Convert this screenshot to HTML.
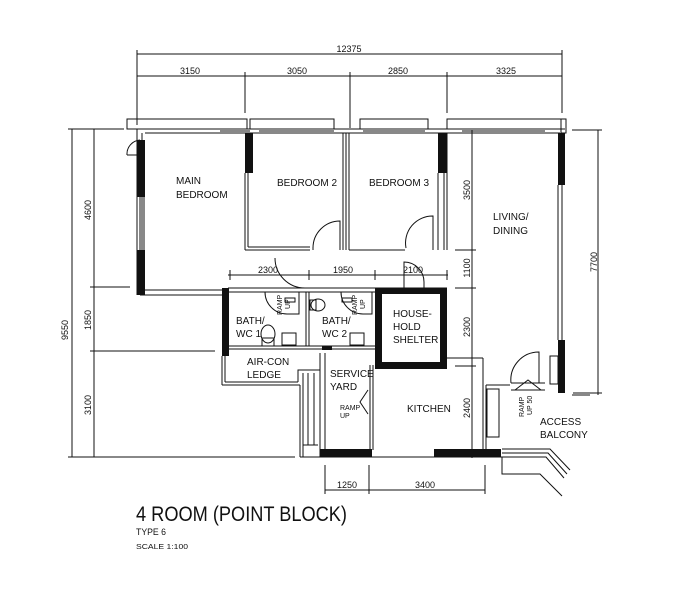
<!DOCTYPE html>
<html><head><meta charset="utf-8"><style>
html,body{margin:0;padding:0;background:#fff}
svg{display:block}
text{font-family:"Liberation Sans",sans-serif;fill:#111}
</style></head><body>
<svg width="686" height="600" viewBox="0 0 686 600" xmlns="http://www.w3.org/2000/svg">
<g stroke="#111" stroke-width="1" fill="none">
<line x1="137" y1="54" x2="562" y2="54"/>
<line x1="137" y1="76" x2="562" y2="76"/>
<line x1="137" y1="50" x2="137" y2="125"/>
<line x1="245" y1="72" x2="245" y2="113"/>
<line x1="350" y1="72" x2="350" y2="128"/>
<line x1="447" y1="72" x2="447" y2="113"/>
<line x1="562" y1="50" x2="562" y2="113"/>
<line x1="72" y1="129" x2="72" y2="457"/>
<line x1="94" y1="129" x2="94" y2="457"/>
<line x1="68" y1="129" x2="124" y2="129"/>
<line x1="90" y1="287" x2="130" y2="287"/>
<line x1="90" y1="351" x2="215" y2="351"/>
<line x1="68" y1="457" x2="295" y2="457"/>
<line x1="598" y1="130" x2="598" y2="395"/>
<line x1="572" y1="130" x2="602" y2="130"/>
<line x1="573" y1="393" x2="602" y2="393"/>
<line x1="472" y1="130" x2="472" y2="458"/>
<line x1="455" y1="250" x2="476" y2="250"/>
<line x1="455" y1="288" x2="476" y2="288"/>
<line x1="455" y1="366" x2="476" y2="366"/>
<line x1="228" y1="275" x2="448" y2="275"/>
<line x1="230" y1="270" x2="230" y2="280"/>
<line x1="309" y1="270" x2="309" y2="280"/>
<line x1="375" y1="270" x2="375" y2="280"/>
<line x1="447" y1="270" x2="447" y2="280"/>
<line x1="325" y1="490" x2="485" y2="490"/>
<line x1="325" y1="465" x2="325" y2="494"/>
<line x1="369" y1="465" x2="369" y2="494"/>
<line x1="485" y1="465" x2="485" y2="494"/>
<line x1="140" y1="129" x2="565" y2="129"/>
<line x1="145" y1="133" x2="560" y2="133"/>
<rect x="127" y="119" width="120" height="10"/>
<rect x="250" y="119" width="84" height="10"/>
<rect x="360" y="119" width="68" height="10"/>
<rect x="447" y="119" width="114" height="10"/>
<rect x="561" y="119" width="5" height="14"/>
<line x1="220" y1="131" x2="250" y2="131"/>
<line x1="259" y1="131" x2="334" y2="131"/>
<line x1="363" y1="131" x2="425" y2="131"/>
<line x1="462" y1="131" x2="545" y2="131"/>
<line x1="137" y1="129" x2="137" y2="295"/>
<line x1="142" y1="133" x2="142" y2="295"/>
<rect x="140" y="196" width="4" height="55"/>
<path d="M127 155 A14 14 0 0 1 140 140"/>
<line x1="127" y1="155" x2="140" y2="155"/>
<line x1="140" y1="295" x2="222" y2="295"/>
<line x1="145" y1="290" x2="222" y2="290"/>
<line x1="245" y1="173" x2="245" y2="250"/>
<line x1="248" y1="173" x2="248" y2="247"/>
<line x1="245" y1="250" x2="310" y2="250"/>
<line x1="248" y1="247" x2="310" y2="247"/>
<line x1="313" y1="250" x2="313" y2="247"/>
<path d="M313 248 A27 27 0 0 1 340 221 L340 250"/>
<path d="M275 258 A30 30 0 0 0 305 288"/>
<line x1="343" y1="133" x2="343" y2="250"/>
<line x1="346" y1="133" x2="346" y2="250"/>
<line x1="349" y1="133" x2="349" y2="250"/>
<line x1="349" y1="250" x2="405" y2="250"/>
<path d="M406 248 A27 27 0 0 1 433 216 L433 250"/>
<line x1="438" y1="173" x2="438" y2="250"/>
<line x1="447" y1="133" x2="447" y2="250"/>
<line x1="444" y1="173" x2="444" y2="250"/>
<line x1="558" y1="185" x2="558" y2="340"/>
<line x1="562" y1="185" x2="562" y2="340"/>
<line x1="228" y1="288" x2="447" y2="288"/>
<line x1="228" y1="292" x2="375" y2="292"/>
<line x1="228" y1="346" x2="375" y2="346"/>
<line x1="228" y1="349" x2="375" y2="349"/>
<line x1="306" y1="292" x2="306" y2="346"/>
<line x1="309" y1="292" x2="309" y2="346"/>
<path d="M265 292 A22 22 0 0 0 287 314 L299 314 L299 292"/>
<path d="M341 292 A22 22 0 0 0 363 314 L372 314 L372 292"/>
<rect x="285" y="298" width="10" height="4"/>
<rect x="342" y="298" width="10" height="4"/>
<ellipse cx="268" cy="334" rx="7" ry="9"/>
<rect x="262" y="338" width="12" height="8"/>
<rect x="282" y="333" width="14" height="12"/>
<ellipse cx="318" cy="305" rx="7" ry="6"/>
<rect x="310" y="300" width="6" height="10"/>
<rect x="350" y="333" width="14" height="12"/>
<path d="M404 288 L404 262 A20 20 0 0 1 424 282 L424 288"/>
<line x1="222" y1="356" x2="222" y2="385"/>
<line x1="225" y1="356" x2="225" y2="382"/>
<line x1="222" y1="385" x2="300" y2="385"/>
<line x1="225" y1="382" x2="298" y2="382"/>
<polyline points="298,382 298,370 320,370"/>
<line x1="300" y1="385" x2="300" y2="457"/>
<line x1="303" y1="373" x2="303" y2="457"/>
<line x1="308" y1="373" x2="308" y2="445"/>
<line x1="314" y1="373" x2="314" y2="445"/>
<line x1="303" y1="445" x2="318" y2="445"/>
<line x1="300" y1="457" x2="325" y2="457"/>
<line x1="320" y1="353" x2="320" y2="457"/>
<line x1="325" y1="353" x2="325" y2="450"/>
<line x1="370" y1="365" x2="370" y2="450"/>
<line x1="373" y1="365" x2="373" y2="450"/>
<path d="M368 390 L360 402 L368 414"/>
<line x1="447" y1="358" x2="483" y2="358"/>
<line x1="483" y1="358" x2="483" y2="455"/>
<line x1="486" y1="385" x2="486" y2="455"/>
<line x1="486" y1="385" x2="510" y2="385"/>
<rect x="487" y="389" width="12" height="48"/>
<line x1="325" y1="457" x2="505" y2="457"/>
<path d="M511 383 A28 28 0 0 1 539 352 L539 383"/>
<line x1="511" y1="383" x2="545" y2="383"/>
<line x1="511" y1="390" x2="545" y2="390"/>
<path d="M515 390 L528 380 L541 390"/>
<rect x="550" y="356" width="8" height="28"/>
<line x1="572" y1="395" x2="590" y2="395"/>
<polyline points="502,449 550,449 570,470"/>
<polyline points="502,453 548,453 567,474"/>
<polyline points="502,457 546,457 564,478"/>
<polyline points="502,457 502,474 540,474 562,496"/>
</g>
<g fill="#111">
<rect x="137" y="140" width="8" height="57"/>
<rect x="137" y="250" width="8" height="45"/>
<rect x="245" y="133" width="8" height="40"/>
<rect x="438" y="133" width="9" height="40"/>
<rect x="558" y="133" width="7" height="52"/>
<rect x="558" y="340" width="7" height="53"/>
<rect x="222" y="288" width="7" height="68"/>
<rect x="375" y="288" width="72" height="6"/>
<rect x="375" y="288" width="7" height="80"/>
<rect x="440" y="288" width="7" height="80"/>
<rect x="375" y="362" width="72" height="7"/>
<rect x="320" y="449" width="52" height="8"/>
<rect x="434" y="449" width="67" height="8"/>
<rect x="322" y="346" width="10" height="4"/>
</g>
<g font-size="9">
<text x="190" y="74" text-anchor="middle">3150</text>
<text x="297" y="74" text-anchor="middle">3050</text>
<text x="398" y="74" text-anchor="middle">2850</text>
<text x="506" y="74" text-anchor="middle">3325</text>
<text x="349" y="52" text-anchor="middle">12375</text>
<text x="268" y="273" text-anchor="middle">2300</text>
<text x="343" y="273" text-anchor="middle">1950</text>
<text x="413" y="273" text-anchor="middle">2100</text>
<text x="347" y="488" text-anchor="middle">1250</text>
<text x="425" y="488" text-anchor="middle">3400</text>
<text transform="translate(68,330) rotate(-90)" text-anchor="middle">9550</text>
<text transform="translate(91,210) rotate(-90)" text-anchor="middle">4600</text>
<text transform="translate(91,320) rotate(-90)" text-anchor="middle">1850</text>
<text transform="translate(91,405) rotate(-90)" text-anchor="middle">3100</text>
<text transform="translate(470,190) rotate(-90)" text-anchor="middle">3500</text>
<text transform="translate(470,268) rotate(-90)" text-anchor="middle">1100</text>
<text transform="translate(470,327) rotate(-90)" text-anchor="middle">2300</text>
<text transform="translate(470,408) rotate(-90)" text-anchor="middle">2400</text>
<text transform="translate(597,262) rotate(-90)" text-anchor="middle">7700</text>
</g>
<g font-size="10">
<text x="176" y="184">MAIN</text><text x="176" y="198">BEDROOM</text>
<text x="277" y="186">BEDROOM 2</text>
<text x="369" y="186">BEDROOM 3</text>
<text x="493" y="220">LIVING/</text><text x="493" y="234">DINING</text>
<text x="236" y="324">BATH/</text><text x="236" y="337">WC 1</text>
<text x="322" y="324">BATH/</text><text x="322" y="337">WC 2</text>
<text x="393" y="317">HOUSE-</text><text x="393" y="330">HOLD</text><text x="393" y="343">SHELTER</text>
<text x="247" y="365">AIR-CON</text><text x="247" y="378">LEDGE</text>
<text x="330" y="377">SERVICE</text><text x="330" y="390">YARD</text>
<text x="407" y="412">KITCHEN</text>
<text x="540" y="425">ACCESS</text><text x="540" y="438">BALCONY</text>
</g>
<g font-size="7">
<text x="340" y="410">RAMP</text><text x="340" y="418">UP</text>
<text transform="translate(282,315) rotate(-90)">RAMP</text>
<text transform="translate(290,309) rotate(-90)">UP</text>
<text transform="translate(357,315) rotate(-90)">RAMP</text>
<text transform="translate(365,309) rotate(-90)">UP</text>
<text transform="translate(524,417) rotate(-90)">RAMP</text>
<text transform="translate(532,415) rotate(-90)">UP 50</text>
</g>
<text x="136" y="521" font-size="21" textLength="211" lengthAdjust="spacingAndGlyphs">4 ROOM (POINT BLOCK)</text>
<text x="136" y="535" font-size="9" textLength="30" lengthAdjust="spacingAndGlyphs">TYPE 6</text>
<text x="136" y="549" font-size="7" textLength="52" lengthAdjust="spacingAndGlyphs">SCALE  1:100</text>
</svg>
</body></html>
